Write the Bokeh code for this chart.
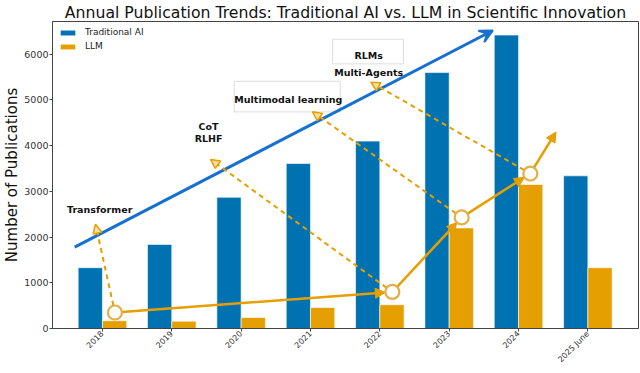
import math
from bokeh.plotting import figure
from bokeh.models import (Range1d, FixedTicker, Arrow, NormalHead, VeeHead, Label,
                          ColumnDataSource)
from bokeh.transform import dodge
from bokeh.embed import file_html
from bokeh.resources import INLINE

# ---------------- data ----------------
years = ["2018", "2019", "2020", "2021", "2022", "2023", "2024", "2025 June"]
traditional_ai = [1330, 1840, 2870, 3610, 4100, 5600, 6420, 3340]
llm = [170, 160, 240, 460, 520, 2200, 3150, 1330]
y_ticks = [0, 1000, 2000, 3000, 4000, 5000, 6000]

# LLM trend markers (year index + bar offset, value)
trend_x = [0.18, 4.18, 5.18, 6.17]
trend_y = [350, 800, 2430, 3390]
trend_end_x = 6.54
trend_end_y = 4300

# Traditional AI overall trend arrow
blue_x = [-0.40, 5.63]
blue_y = [1780, 6520]

# milestone labels and arrow tips
milestone_tip_x = [-0.10, 1.56, 3.03, 3.87]
milestone_tip_y = [2280, 3700, 4740, 5390]
label_lines = [["Transformer"], ["CoT", "RLHF"], ["Multimodal learning"], ["RLMs", "Multi-Agents"]]
label_x = [-0.04, 1.53, 2.68, 3.84]
label_y = [[2610], [4420, 4150], [5000], [5980, 5610]]
box_x0 = [None, None, 1.90, 3.32]
box_x1 = [None, None, 3.43, 4.34]
box_y0 = [None, None, 4740, 5790]
box_y1 = [None, None, 5410, 6330]

BLUE = "#0072B2"
ORANGE = "#E69F00"
RING = "#E2B04A"
FONT = "DejaVu Sans"

p = figure(width=640, height=373, output_backend="svg", toolbar_location=None,
           x_range=Range1d(-0.72, 7.73), y_range=Range1d(0, 6717),
           title="Annual Publication Trends: Traditional AI vs. LLM in Scientific Innovation",
           min_border_left=52, min_border_right=2, min_border_top=0, min_border_bottom=45)
p.background_fill_color = "white"
p.border_fill_color = "white"
p.grid.visible = False
p.outline_line_color = "#444444"
p.outline_line_width = 1

p.title.align = "center"
p.title.text_font = FONT
p.title.text_font_style = "normal"
p.title.text_font_size = "15.7px"
p.title.text_color = "#111111"
p.title.text_line_height = 1.0
p.title.standoff = 0
p.title.offset = 0

idx = list(range(len(years)))
src = ColumnDataSource(dict(x=idx, trad=traditional_ai, llm=llm))
p.vbar(x=dodge("x", -0.175), top="trad", width=0.35, source=src, fill_color=BLUE,
       line_color="white", line_alpha=0.6, line_width=1, legend_label="Traditional AI")
p.vbar(x=dodge("x", 0.175), top="llm", width=0.35, source=src, fill_color=ORANGE,
       line_color="white", line_alpha=0.6, line_width=1, legend_label="LLM")

# axes
p.xaxis.ticker = FixedTicker(ticks=idx)
p.xaxis.major_label_overrides = {i: y for i, y in enumerate(years)}
p.xaxis.major_label_orientation = math.pi / 4
p.xaxis.major_label_text_font_size = "8px"
p.yaxis.ticker = FixedTicker(ticks=y_ticks)
p.yaxis.major_label_text_font_size = "9.5px"
p.yaxis.axis_label = "Number of Publications"
p.yaxis.axis_label_text_font = FONT
p.yaxis.axis_label_text_font_style = "normal"
p.yaxis.axis_label_text_font_size = "15px"
p.yaxis.axis_label_text_color = "#111111"
p.yaxis.axis_label_standoff = 0
for ax in (p.xaxis, p.yaxis):
    ax.major_label_text_font = FONT
    ax.major_label_text_color = "#333333"
    ax.axis_line_color = "#444444"
    ax.major_tick_line_color = "#444444"
    ax.major_tick_in = 0
    ax.major_tick_out = 3
    ax.minor_tick_line_color = None
    ax.major_label_standoff = 1

# legend
lg = p.legend[0]
lg.location = "top_left"
lg.border_line_color = None
lg.background_fill_alpha = 0
lg.margin = 6
lg.padding = 2
lg.glyph_width = 19
lg.glyph_height = 7
lg.label_height = 10
lg.spacing = 4
lg.label_standoff = 8
lg.label_text_font = FONT
lg.label_text_font_size = "9px"
lg.label_text_color = "#222222"

# helpers for trimming arrows in pixel space
PX_X = 69.3
PX_Y = 0.046


def trim(x0, y0, x1, y1, r0, r1):
    dx = (x1 - x0) * PX_X
    dy = (y1 - y0) * PX_Y
    L = math.hypot(dx, dy)
    ux, uy = dx / L, dy / L
    return (x0 + ux * r0 / PX_X, y0 + uy * r0 / PX_Y,
            x1 - ux * r1 / PX_X, y1 - uy * r1 / PX_Y)


# boxes for labels
for i in range(4):
    if box_x0[i] is not None:
        p.quad(left=[box_x0[i]], right=[box_x1[i]], bottom=[box_y0[i]], top=[box_y1[i]],
               fill_color="white", fill_alpha=0.9, line_color="#dddddd", line_width=1)

# blue trend arrow
p.add_layout(Arrow(x_start=blue_x[0], y_start=blue_y[0], x_end=blue_x[1], y_end=blue_y[1],
                   line_color="#1570D0", line_width=3, level="glyph",
                   end=VeeHead(size=13, fill_color="#1570D0", line_color="#1570D0", line_width=2)))

# dashed milestone arrows
for i in range(4):
    x0, y0, x1, y1 = trim(trend_x[i], trend_y[i], milestone_tip_x[i], milestone_tip_y[i], 7, 0)
    p.add_layout(Arrow(x_start=x0, y_start=y0, x_end=x1, y_end=y1,
                       line_color=ORANGE, line_width=2, line_dash="5 4", level="glyph",
                       end=NormalHead(size=9, fill_color=ORANGE, fill_alpha=0.35,
                                      line_color=ORANGE, line_width=1.5)))

# solid trend arrows
pts_x = trend_x + [trend_end_x]
pts_y = trend_y + [trend_end_y]
for i in range(len(pts_x) - 1):
    r1 = 7 if i < len(pts_x) - 2 else 0
    x0, y0, x1, y1 = trim(pts_x[i], pts_y[i], pts_x[i + 1], pts_y[i + 1], 7, r1)
    p.add_layout(Arrow(x_start=x0, y_start=y0, x_end=x1, y_end=y1,
                       line_color=ORANGE, line_width=2.5, level="glyph",
                       end=NormalHead(size=10, fill_color=ORANGE, line_color=ORANGE, line_width=1)))

circ = p.scatter(x=trend_x, y=trend_y, marker="circle", size=14, fill_color="white",
                 line_color=RING, line_width=2.2)
circ.level = "overlay"

# milestone labels
for i in range(4):
    for line, yy in zip(label_lines[i], label_y[i]):
        p.add_layout(Label(x=label_x[i], y=yy, text=line, text_align="center",
                           text_baseline="middle", text_font=FONT,
                           text_font_style="bold", text_font_size="9.5px",
                           text_color="#111111"))

open("out.html", "w").write(file_html(p, INLINE))
